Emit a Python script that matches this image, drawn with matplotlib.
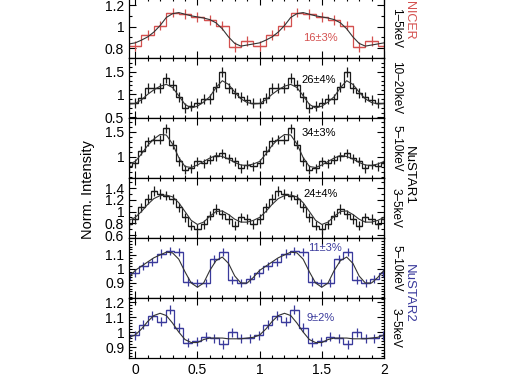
import numpy as np
import matplotlib
matplotlib.use("Agg")
import matplotlib.pyplot as plt
from matplotlib.ticker import MultipleLocator, FixedLocator, FuncFormatter

plt.rcParams['font.family'] = ['Liberation Sans', 'DejaVu Sans']

# binned pulse profiles, one cycle each (drawn twice)
nicer_1_5 = [0.82, 0.92, 1.01, 1.13, 1.12, 1.09, 1.06, 1.01, 0.81, 0.87]
nicer_1_5_err = 0.045
nu1_10_20 = [0.80, 0.91, 1.13, 1.15, 1.13, 1.37, 1.20, 0.95, 0.69, 0.74,
             0.80, 0.90, 0.90, 1.17, 1.50, 1.15, 1.02, 0.95, 0.87, 0.82]
nu1_10_20_err = 0.11
nu1_5_10 = [0.87, 1.12, 1.31, 1.34, 1.34, 1.57, 1.24, 0.91, 0.74, 0.77,
            0.91, 0.87, 0.94, 1.01, 1.07, 0.97, 0.91, 0.77, 0.84, 0.81]
nu1_5_10_err = 0.09
nu1_3_5 = [0.87, 1.07, 1.21, 1.35, 1.30, 1.27, 1.21, 1.07, 0.90, 0.76,
           0.70, 0.78, 0.93, 1.04, 0.95, 0.87, 0.76, 0.90, 0.87, 0.78]
nu1_3_5_err = 0.08
nu2_5_10 = [1.02, 1.05, 1.11, 1.13, 1.12, 0.91, 0.90, 0.90, 1.07, 1.12,
            0.92, 0.90, 0.93, 0.97]
nu2_5_10_err = 0.03
nu2_3_5 = [1.05, 1.11, 1.07, 1.15, 1.03, 0.93, 0.94, 0.97, 0.96, 0.92,
           1.00, 0.96, 0.96, 0.98]
nu2_3_5_err = 0.03

# model curves, one cycle sampled every 0.05 in phase
model_phase = np.arange(20) * 0.05
nicer_1_5_mod = [0.85, 0.875, 0.905, 0.95, 1.01, 1.085, 1.12, 1.13, 1.115, 1.10,
                 1.09, 1.08, 1.065, 1.035, 0.98, 0.905, 0.845, 0.82, 0.83, 0.84]
nu1_10_20_mod = [0.80, 0.88, 1.00, 1.10, 1.18, 1.22, 1.15, 0.97, 0.78, 0.70,
                 0.74, 0.83, 0.95, 1.15, 1.30, 1.22, 1.05, 0.90, 0.82, 0.79]
nu1_5_10_mod = [0.90, 1.05, 1.22, 1.35, 1.44, 1.43, 1.25, 0.98, 0.80, 0.78,
                0.83, 0.90, 0.97, 1.02, 1.00, 0.95, 0.88, 0.83, 0.82, 0.85]
nu1_3_5_mod = [0.90, 1.00, 1.12, 1.22, 1.27, 1.28, 1.25, 1.15, 1.00, 0.85,
               0.78, 0.82, 0.92, 1.00, 1.01, 0.95, 0.87, 0.82, 0.82, 0.85]
nu2_5_10_mod = [0.99, 1.02, 1.05, 1.08, 1.10, 1.12, 1.115, 1.07, 0.98, 0.90,
                0.87, 0.90, 0.99, 1.06, 1.085, 1.04, 0.95, 0.90, 0.90, 0.94]
nu2_3_5_mod = [0.98, 1.02, 1.07, 1.11, 1.125, 1.11, 1.06, 1.00, 0.95, 0.93,
               0.93, 0.95, 0.96, 0.96, 0.96, 0.955, 0.955, 0.955, 0.96, 0.965]

bands = ['1\u20135keV', '10\u201320keV', '5\u201310keV', '3\u20135keV', '5\u201310keV', '3\u20135keV']
fractions = ['16\u00b13%', '26\u00b14%', '34\u00b13%', '24\u00b14%', '11\u00b13%', '9\u00b12%']

red = '#d4504f'
blue = '#3a3a9c'
black = '#1a1a1a'

panels = [
    (nicer_1_5, nicer_1_5_err, nicer_1_5_mod, 0.05, red, (0.71, 1.265), 0.2, 0.1, None),
    (nu1_10_20, nu1_10_20_err, nu1_10_20_mod, 0.0, black, (0.48, 1.8), 0.5, 0.1, None),
    (nu1_5_10, nu1_5_10_err, nu1_5_10_mod, 0.0, black, (0.57, 1.77), 0.5, 0.1, None),
    (nu1_3_5, nu1_3_5_err, nu1_3_5_mod, 0.0, black, (0.55, 1.57), 0.2, 0.1, None),
    (nu2_5_10, nu2_5_10_err, nu2_5_10_mod, 0.03, blue, (0.793, 1.221), 0.1, 0.02, [0.9, 1.0, 1.1]),
    (nu2_3_5, nu2_3_5_err, nu2_3_5_mod, 0.03, blue, (0.827, 1.227), 0.1, 0.02, None),
]
text_pos = [(0.75, 0.33), (0.743, 0.63), (0.745, 0.75), (0.753, 0.73), (0.77, 0.83), (0.753, 0.67)]

fig = plt.figure(figsize=(5.11, 3.80), dpi=100)
left, width = 129 / 511, 255 / 511
h = 60 / 380
bottom0 = 1 - 358 / 380
fmt = FuncFormatter(lambda v, p: f'{v:g}')

for i, (vals, err, mod, shift, col, ylim, maj, mnr, fixed) in enumerate(panels):
    ax = fig.add_axes([left, bottom0 + (5 - i) * h, width, h])
    n = len(vals)
    w = 1.0 / n
    ks = np.arange(-2, 2 * n + 2)
    # 10 and 20 bin profiles are centred on k*w, the 14 bin ones start at shift
    if n in (10, 20):
        lo = ks * w - w / 2
    else:
        lo = ks * w + shift
    edges = np.append(lo, lo[-1] + w)
    y = np.array([vals[k % n] for k in ks])
    ax.stairs(y, edges, color=col, lw=0.9)
    cen = lo + w / 2
    ax.errorbar(cen, y, xerr=w / 2, yerr=err, fmt='none', ecolor=col, elinewidth=0.9, capsize=0)
    mx = np.concatenate([model_phase + c for c in (-1, 0, 1, 2)] + [[3.0]])
    my = np.concatenate([mod] * 4 + [[mod[0]]])
    ax.plot(mx, my, color='#333333', lw=0.8)

    ax.set_xlim(-0.05, 2.0)
    ax.set_ylim(*ylim)
    ax.xaxis.set_major_locator(MultipleLocator(0.5))
    ax.xaxis.set_minor_locator(MultipleLocator(0.1))
    if fixed:
        ax.yaxis.set_major_locator(FixedLocator(fixed))
    else:
        ax.yaxis.set_major_locator(MultipleLocator(maj))
    ax.yaxis.set_minor_locator(MultipleLocator(mnr))
    ax.yaxis.set_major_formatter(fmt)
    ax.xaxis.set_major_formatter(fmt)
    ax.tick_params(which='both', direction='in', top=True, right=True, labelsize=10, width=0.8)
    ax.tick_params(which='major', length=5)
    ax.tick_params(which='minor', length=2.5)
    if i < 5:
        ax.tick_params(labelbottom=False)
    for s in ax.spines.values():
        s.set_linewidth(0.9)
    tc = col if col != black else 'black'
    ax.text(*text_pos[i], fractions[i], transform=ax.transAxes, ha='center', va='center',
            fontsize=8, color=tc)
    # energy band label on the right
    yc = 1 - (i * 60 + 28) / 380
    fig.text(396 / 511, yc, bands[i], rotation=-90, ha='center', va='center', fontsize=8.5)

fig.text(409 / 511, 1 - 20 / 380, 'NICER', rotation=-90, ha='center', va='center', fontsize=9, color=red)
fig.text(409 / 511, 1 - 175 / 380, 'NuSTAR1', rotation=-90, ha='center', va='center', fontsize=9.5)
fig.text(409 / 511, 1 - 293 / 380, 'NuSTAR2', rotation=-90, ha='center', va='center', fontsize=9.5, color=blue)
fig.text(88 / 511, 1 - 190 / 380, 'Norm. Intensity', rotation=90, ha='center', va='center', fontsize=10.5)

fig.savefig('out.png', dpi=100)
